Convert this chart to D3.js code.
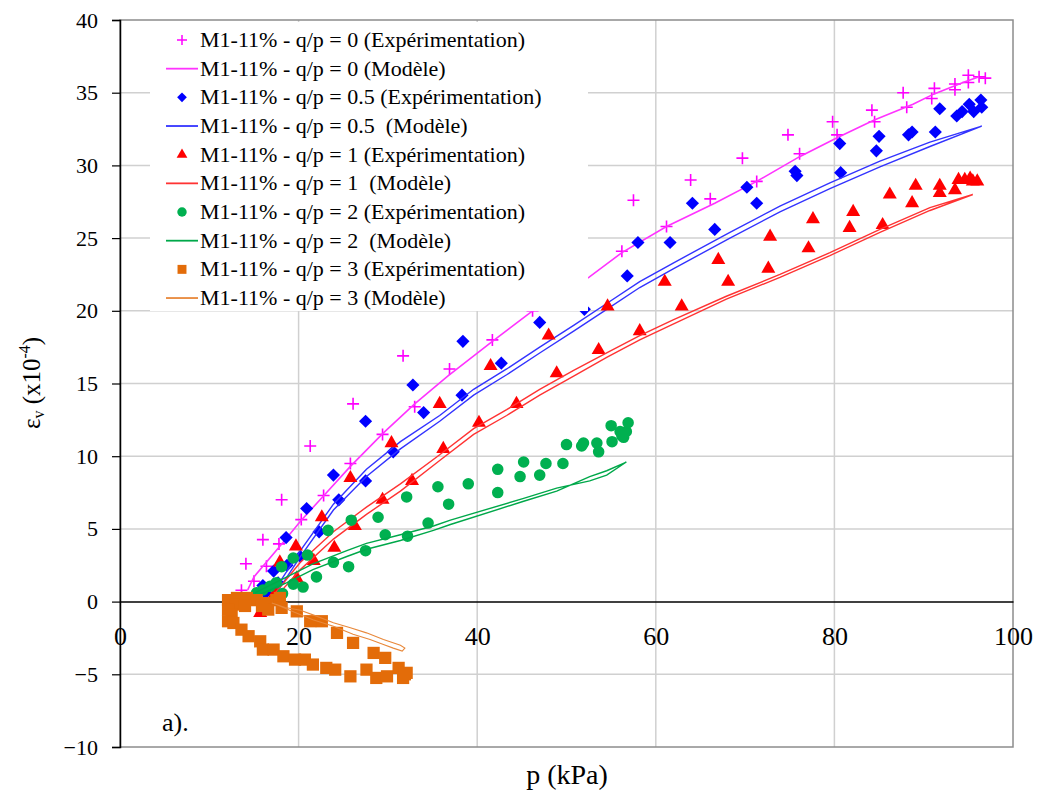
<!DOCTYPE html>
<html><head><meta charset="utf-8">
<script src="https://cdn.jsdelivr.net/npm/d3@7"></script>
<style>
body{margin:0;background:#fff}
text{white-space:pre}
</style>
</head><body>
<svg id="chart" width="1037" height="801"></svg>
<script>
const SERIF="'Liberation Serif', 'Times New Roman', 'DejaVu Serif', serif";
const xTicks=[0,20,40,60,80,100];
const yTicks=[-10,-5,0,5,10,15,20,25,30,35,40];
const legendLabels=[
 "M1-11% - q/p = 0 (Expérimentation)","M1-11% - q/p = 0 (Modèle)",
 "M1-11% - q/p = 0.5 (Expérimentation)","M1-11% - q/p = 0.5  (Modèle)",
 "M1-11% - q/p = 1 (Expérimentation)","M1-11% - q/p = 1  (Modèle)",
 "M1-11% - q/p = 2 (Expérimentation)","M1-11% - q/p = 2  (Modèle)",
 "M1-11% - q/p = 3 (Expérimentation)","M1-11% - q/p = 3 (Modèle)"];

const exp0=[[13.6,0.78],[14.1,2.6],[15.0,1.4],[16.0,4.26],[16.4,2.43],[17.8,3.97],[18.1,7.0],[20.3,5.64],[21.3,10.7],[22.8,7.3],[25.8,9.5],[26.1,13.6],[29.4,11.5],[31.7,16.9],[33.0,13.4],[36.9,16.0],[41.7,18.0],[46.2,20.0],[56.2,24.1],[57.5,27.6],[61.2,25.8],[63.9,29.0],[66.1,27.7],[69.7,30.5],[71.3,28.9],[74.8,32.1],[76.1,30.8],[79.8,33.0],[80.3,32.1],[84.2,33.8],[84.5,33.0],[87.7,35.0],[88.1,34.0],[90.9,34.6],[91.2,35.3],[93.5,35.6],[93.5,35.2],[95.0,36.2],[95.0,35.7],[96.2,36.1],[96.9,36.0]];
const mod0=[[14.3,0.8],[15.0,1.7],[17.9,3.8],[20.3,5.6],[22.4,7.0],[25.8,9.3],[29.5,11.6],[33.0,13.6],[36.7,15.5],[41.7,17.9],[46.2,20.0],[52.5,22.3],[56.2,24.0],[61.2,25.8],[66.6,27.4],[71.3,28.9],[76.1,30.6],[80.3,31.9],[84.4,33.1],[88.8,34.2],[91.1,34.9],[94.4,35.7],[96.2,36.1]];

const exp05=[[16.0,1.1],[16.3,0.6],[17.2,2.1],[17.5,0.5],[17.7,1.3],[18.6,4.4],[18.7,2.5],[20.2,3.1],[20.9,6.4],[22.3,4.8],[23.9,8.7],[24.5,7.0],[27.5,8.3],[27.5,12.4],[30.6,10.3],[32.8,14.9],[34.0,13.0],[38.3,14.2],[38.4,17.9],[42.7,16.4],[47.0,19.2],[52.0,20.1],[56.8,22.4],[58.0,24.7],[61.6,24.7],[64.1,27.4],[66.6,25.6],[70.2,28.5],[71.3,27.4],[75.6,29.6],[75.8,29.3],[80.7,29.5],[80.6,31.5],[84.7,31.0],[85.0,32.0],[88.3,32.1],[88.7,32.3],[91.3,32.3],[91.8,33.9],[93.7,33.4],[94.3,33.7],[95.1,34.2],[95.6,33.7],[96.4,34.5],[96.5,34.0]];
const mod05=[[17.1,0.6],[20.2,3.5],[23.9,6.7],[27.6,9.1],[31.4,11.0],[35.8,12.8],[39.6,14.6],[43.3,16.0],[47.0,17.5],[50.8,19.0],[54.5,20.5],[58.2,22.0],[62.0,23.3],[68.3,25.4],[73.9,27.2],[79.5,28.8],[85.1,30.3],[90.7,31.6],[96.5,32.7],
 [90.7,31.3],[85.1,29.9],[79.5,28.4],[73.9,26.8],[68.3,25.0],[62.0,22.9],[58.2,21.6],[54.5,20.1],[50.8,18.6],[47.0,17.1],[43.3,15.6],[39.6,14.2],[35.8,12.4],[31.4,10.5],[27.6,8.6],[23.9,6.3],[20.2,3.1],[17.3,0.4]];

const exp1=[[15.7,-0.78],[17.4,0.6],[17.9,2.7],[19.7,3.8],[19.8,1.6],[21.7,2.8],[22.6,5.8],[24.0,3.7],[25.8,8.5],[26.3,5.2],[29.4,7.0],[30.4,10.9],[32.7,8.3],[35.8,13.6],[36.2,10.5],[40.2,12.3],[41.5,16.2],[44.4,13.6],[48.0,18.3],[48.9,15.7],[53.6,17.3],[54.6,20.3],[58.2,18.6],[61.0,22.0],[62.9,20.3],[67.0,23.5],[68.1,22.0],[72.8,25.1],[72.6,22.9],[77.6,26.3],[77.1,24.3],[82.1,26.8],[81.7,25.7],[86.2,28.0],[85.4,25.9],[89.1,28.6],[88.7,27.4],[91.8,28.6],[91.8,28.1],[93.5,28.3],[93.9,29.0],[94.6,29.0],[95.2,29.1],[95.5,28.9],[96.0,28.9]];
const mod1=[[17.0,0.3],[20.2,2.7],[23.9,4.8],[27.6,6.5],[31.4,8.1],[35.8,10.1],[39.6,11.9],[43.3,13.2],[47.0,14.6],[50.8,15.9],[54.5,17.1],[58.2,18.3],[62.0,19.4],[67.9,21.0],[73.9,22.5],[79.5,24.0],[85.1,25.6],[90.7,27.1],[95.5,28.0],
 [90.7,26.9],[85.1,25.4],[79.5,23.8],[73.9,22.3],[67.9,20.8],[62.0,19.1],[58.2,18.0],[54.5,16.8],[50.8,15.5],[47.0,14.2],[43.3,12.8],[39.6,11.5],[35.8,9.7],[31.4,7.6],[27.6,6.0],[23.9,4.3],[20.2,2.2],[17.0,0.0]];

const exp2=[[15.3,0.6],[16.0,0.8],[16.8,1.05],[17.5,1.3],[18.1,2.4],[18.2,0.55],[19.4,3.0],[19.4,1.2],[20.5,1.0],[21.0,3.2],[22.0,1.7],[23.3,4.9],[23.9,2.7],[25.6,2.4],[25.9,5.6],[27.5,3.5],[28.9,5.8],[29.7,4.6],[32.1,7.2],[32.2,4.5],[34.5,5.4],[35.6,7.9],[36.8,6.7],[39.0,8.1],[42.3,7.5],[42.3,9.1],[44.8,8.6],[45.2,9.6],[47.0,8.7],[47.7,9.5],[49.6,9.5],[50.0,10.8],[51.7,10.7],[51.9,10.9],[53.4,10.9],[53.6,10.3],[55.1,11.0],[55.0,12.1],[56.0,11.7],[56.4,11.3],[56.7,11.7],[56.9,12.3],[56.2,11.4]];
const mod2=[[15.1,0.6],[18.7,1.7],[21.6,2.6],[25.4,3.5],[27.6,4.0],[31.4,4.6],[35.1,5.2],[37.0,5.6],[45.2,7.1],[48.9,7.8],[52.6,8.3],[54.5,8.7],[56.7,9.6],
 [54.5,9.0],[52.6,8.6],[48.9,7.6],[45.2,6.9],[37.0,5.3],[35.1,4.9],[31.4,4.2],[27.6,3.6],[25.4,3.1],[21.6,2.2],[18.7,1.3],[15.3,0.4]];

const exp3=[[12.1,0.1],[13.1,0.25],[14.2,0.25],[15.3,0.1],[16.4,-0.1],[17.5,0.1],[17.9,0.25],[16.6,-0.55],[13.0,-0.2],[12.1,-0.55],[12.5,-0.9],[12.1,-1.35],[12.7,-1.47],[13.6,-1.93],[14.4,-2.38],[15.7,-2.73],[16.0,-3.3],[17.2,-3.3],[18.3,-3.76],[19.6,-3.99],[20.7,-3.99],[21.6,-4.33],[23.1,-4.56],[24.1,-4.68],[25.8,-5.14],[27.6,-4.68],[28.7,-5.25],[29.9,-5.14],[31.2,-4.56],[31.7,-5.25],[32.1,-4.9],[31.9,-5.0],[29.7,-3.87],[28.4,-3.53],[26.1,-2.84],[24.3,-2.15],[22.6,-1.35],[21.3,-1.35],[19.8,-0.67],[18.1,-0.43],[15.9,-0.3],[14.0,-0.3]];
const mod3=[[17.0,-0.1],[18.5,-0.4],[20.2,-0.6],[22.0,-1.0],[23.9,-1.45],[25.8,-1.8],[27.6,-2.15],[29.5,-2.6],[31.4,-3.0],[31.9,-3.2],[31.6,-3.4],[30.6,-3.2],[29.5,-2.95],[28.0,-2.6],[26.1,-2.25],[23.9,-1.7],[21.6,-1.25],[19.0,-0.6],[17.5,-0.2]];

const svg=d3.select("#chart");
const x=d3.scaleLinear().domain([0,100]).range([120,1013]);
const y=d3.scaleLinear().domain([-10,40]).range([747,20]);

svg.append("g").selectAll("line").data(xTicks.filter(d=>d>0&&d<100)).join("line")
 .attr("x1",d=>x(d)).attr("x2",d=>x(d)).attr("y1",y(40)).attr("y2",y(-10))
 .attr("stroke","#d0d0d0").attr("stroke-width",1.5);
svg.append("g").selectAll("line").data(yTicks.filter(d=>d!==0&&d!==-10&&d!==40)).join("line")
 .attr("x1",x(0)).attr("x2",x(100)).attr("y1",d=>y(d)).attr("y2",d=>y(d))
 .attr("stroke","#d0d0d0").attr("stroke-width",1.5);
svg.append("rect").attr("x",x(0)).attr("y",y(40)).attr("width",x(100)-x(0)).attr("height",y(-10)-y(40))
 .attr("fill","none").attr("stroke","#8c8c8c").attr("stroke-width",1.5);

const yAxis=d3.axisLeft(y).tickValues(yTicks).tickSize(8).tickPadding(14).tickFormat(d3.format("d"));
const gy=svg.append("g").attr("transform",`translate(${x(0)},0)`).call(yAxis)
 .attr("font-family",SERIF).attr("font-size",22);
gy.select(".domain").attr("stroke","#000").attr("stroke-width",1.5);
gy.selectAll(".tick line").attr("stroke","#000").attr("stroke-width",1.2);
gy.selectAll("text").attr("fill","#000");

const xAxis=d3.axisBottom(x).tickValues(xTicks).tickSize(0).tickPadding(25);
const gx=svg.append("g").attr("transform",`translate(0,${y(0)})`).call(xAxis)
 .attr("font-family",SERIF).attr("font-size",26);
gx.select(".domain").attr("stroke","#000").attr("stroke-width",1.5);
gx.selectAll("text").attr("fill","#000");

function drawPlus(g,data,color){
 g.selectAll(null).data(data).join("path")
  .attr("d",d=>{const cx=x(d[0]),cy=y(d[1]);return `M${cx-6},${cy}H${cx+6}M${cx},${cy-6}V${cy+6}`;})
  .attr("stroke",color).attr("stroke-width",1.6).attr("fill","none");
}
function drawSym(g,data,type,size,color){
 g.selectAll(null).data(data).join("path")
  .attr("d",d3.symbol().type(type).size(size))
  .attr("transform",d=>`translate(${x(d[0])},${y(d[1])})`).attr("fill",color);
}
const line=d3.line().x(d=>x(d[0])).y(d=>y(d[1]));
function drawLine(g,data,color,w){
 g.append("path").datum(data).attr("d",line).attr("fill","none").attr("stroke",color).attr("stroke-width",w);
}
const plot=svg.append("g");
drawPlus(plot.append("g"),exp0,"#ff00ff");
drawLine(plot,mod0,"#ff33ff",1.6);
drawSym(plot.append("g"),exp05,d3.symbolDiamond2,110,"#0000ff");
drawLine(plot,mod05,"#3333ff",1.4);
drawSym(plot.append("g"),exp1,d3.symbolTriangle,85,"#ff0000");
drawLine(plot,mod1,"#ff3333",1.4);
drawSym(plot.append("g"),exp2,d3.symbolCircle,105,"#00b050");
drawLine(plot,mod2,"#00a84a",1.4);
drawSym(plot.append("g"),exp3,d3.symbolSquare,150,"#e36c09");
drawLine(plot,mod3,"#e8883a",1.1);

const lg=svg.append("g").attr("font-family",SERIF).attr("font-size",22);
lg.append("rect").attr("x",150).attr("y",22).attr("width",438).attr("height",289).attr("fill","#fff");
const colors=["#ff00ff","#ff33ff","#0000ff","#3333ff","#ff0000","#ff3333","#00b050","#00a84a","#e36c09","#e8883a"];
const syms=[null,null,d3.symbolDiamond2,null,d3.symbolTriangle,null,d3.symbolCircle,null,d3.symbolSquare,null];
const symSize=[0,0,60,0,50,0,70,0,80,0];
legendLabels.forEach((lab,i)=>{
 const cy=40+i*28.67;
 if(i%2===1){
  lg.append("line").attr("x1",166).attr("x2",198).attr("y1",cy).attr("y2",cy).attr("stroke",colors[i]).attr("stroke-width",1.8);
 } else if(i===0){
  lg.append("path").attr("d",`M177,${cy}H187M182,${cy-5}V${cy+5}`).attr("stroke",colors[i]).attr("stroke-width",1.5);
 } else {
  lg.append("path").attr("d",d3.symbol().type(syms[i]).size(symSize[i])).attr("transform",`translate(182,${cy})`).attr("fill",colors[i]);
 }
 lg.append("text").attr("x",200).attr("y",cy+7).attr("fill","#000").text(lab);
});

svg.append("text").attr("x",567).attr("y",784).attr("text-anchor","middle")
 .attr("font-family",SERIF).attr("font-size",28).attr("fill","#000").text("p (kPa)");
const yt=svg.append("text").attr("transform","translate(40,383) rotate(-90)").attr("text-anchor","middle")
 .attr("font-family",SERIF).attr("font-size",25).attr("fill","#000");
yt.append("tspan").text("ε");
yt.append("tspan").attr("font-size",16).attr("dy",4).text("v");
yt.append("tspan").attr("dy",-4).text(" (x10");
yt.append("tspan").attr("font-size",16).attr("dy",-10).text("-4");
yt.append("tspan").attr("dy",10).text(")");
svg.append("text").attr("x",162).attr("y",731).attr("font-family",SERIF).attr("font-size",26).attr("fill","#000").text("a).");
</script>
</body></html>
